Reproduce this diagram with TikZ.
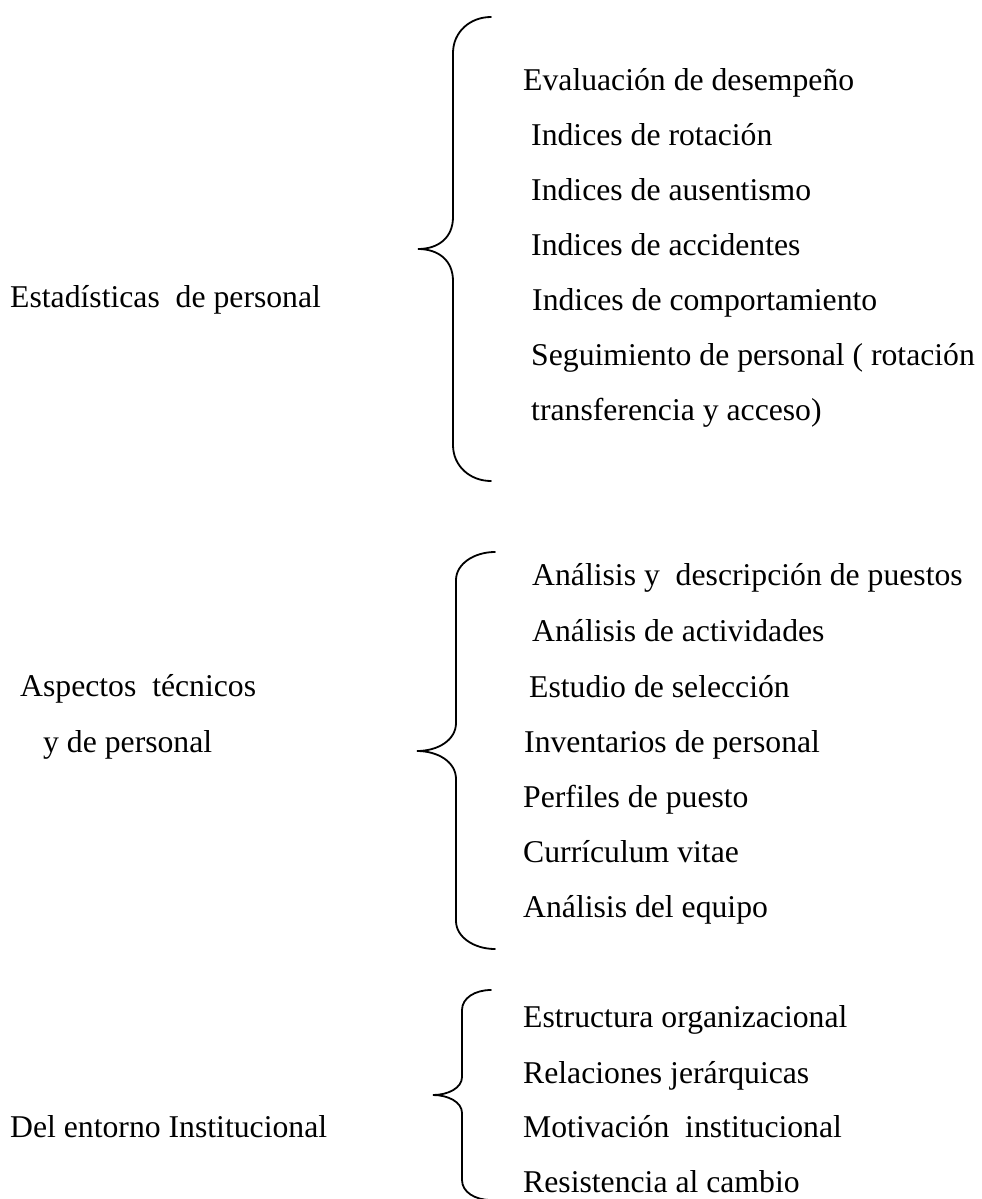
\documentclass[tikz,border=0pt]{standalone}
\usepackage{fontspec}
\setmainfont{Liberation Serif}
\begin{document}
\begin{tikzpicture}[x=1pt,y=-1pt,
  txt/.style={anchor=base west, inner sep=0pt, font=\fontsize{31.7}{38}\selectfont},
  bracepath/.style={draw=black, line width=1.8pt, line cap=round}]
\clip (0,0) rectangle (982,1199);
\fill[white] (0,0) rectangle (982,1199);

% --- Estadisticas de personal ---
\node[txt] (g1) at (10,307) {Estadísticas~ de personal};
\draw[bracepath] (491,17) .. controls (470,17) and (453,32) .. (453,53)
  -- (453,217) .. controls (453,238) and (438,249) .. (418,249)
  .. controls (438,249) and (453,260) .. (453,281)
  -- (453,445) .. controls (453,466) and (470,481) .. (491,481);
\node[txt] (a1) at (523,90)  {Evaluación de desempeño};
\node[txt] (a2) at (531,145) {Indices de rotación};
\node[txt] (a3) at (531,200) {Indices de ausentismo};
\node[txt] (a4) at (531,255) {Indices de accidentes};
\node[txt] (a5) at (532,310) {Indices de comportamiento};
\node[txt] (a6) at (531,365) {Seguimiento de personal ( rotación};
\node[txt] (a7) at (531,420) {transferencia y acceso)};

% --- Aspectos tecnicos y de personal ---
\node[txt] (g2a) at (20,696) {Aspectos~ técnicos};
\node[txt] (g2b) at (43,752) {y de personal};
\draw[bracepath] (495,552) .. controls (474,552) and (456,564) .. (456,580)
  -- (456,723) .. controls (456,740) and (438,751) .. (417,751)
  .. controls (438,751) and (456,762) .. (456,779)
  -- (456,921) .. controls (456,937) and (474,949) .. (495,949);
\node[txt] (b1) at (532,585) {Análisis y~ descripción de puestos};
\node[txt] (b2) at (532,641) {Análisis de actividades};
\node[txt] (b3) at (529,697) {Estudio de selección};
\node[txt] (b4) at (524,752) {Inventarios de personal};
\node[txt] (b5) at (523,807) {Perfiles de puesto};
\node[txt] (b6) at (523,862) {Currículum vitae};
\node[txt] (b7) at (523,917) {Análisis del equipo};

% --- Del entorno Institucional ---
\node[txt] (g3) at (10,1137) {Del entorno Institucional};
\draw[bracepath] (491,990) .. controls (475,990) and (462,998) .. (462,1010)
  -- (462,1077) .. controls (462,1088) and (448,1095) .. (433,1095)
  .. controls (448,1095) and (462,1102) .. (462,1113)
  -- (462,1180) .. controls (462,1192) and (475,1200) .. (491,1200);
\node[txt] (c1) at (523,1027) {Estructura organizacional};
\node[txt] (c2) at (523,1083) {Relaciones jerárquicas};
\node[txt] (c3) at (523,1137) {Motivación~ institucional};
\node[txt] (c4) at (523,1192) {Resistencia al cambio};
\end{tikzpicture}
\end{document}
